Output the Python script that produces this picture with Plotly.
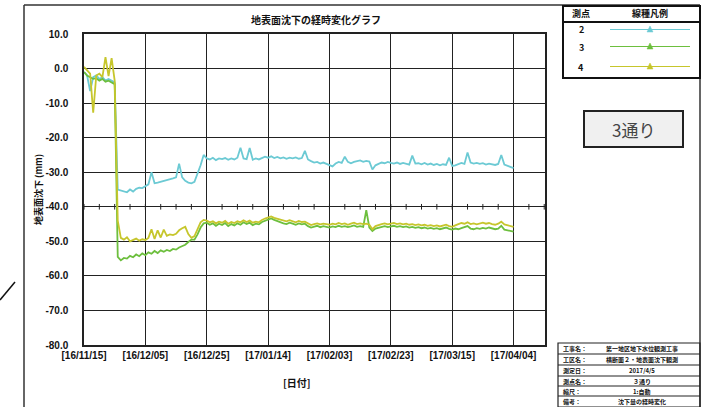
import pandas as pd
import plotly.graph_objects as go

# ---------------- data ----------------
start_date = "2016-11-15"
n_days = 141
dates = pd.date_range(start_date, periods=n_days, freq="D")

s2_values = [
    -1.0, -2.0, -6.5, -2.5, -2.0, -3.0, -2.5, -3.5, -3.0, -3.5,
    -4.0, -35.0, -35.2, -35.5, -35.8, -35.0, -35.6, -34.8, -34.5, -34.6,
    -34.0, -33.5, -30.0, -33.2, -33.0, -32.8, -32.5, -32.3, -32.0, -31.8,
    -31.5, -27.5, -31.5, -32.5, -33.0, -33.2, -32.8, -30.5, -28.0, -25.0,
    -26.0, -26.3, -25.8, -26.5, -26.0, -26.2, -25.9, -26.4, -26.0, -26.3,
    -25.8, -22.9, -26.0, -26.2, -23.0, -26.4, -26.0, -26.3, -25.8, -25.5,
    -25.8, -25.4, -25.9, -25.6, -26.0, -25.7, -26.1, -25.8, -26.0, -25.7,
    -26.1, -25.9, -23.8, -26.3, -26.8, -27.2, -27.0, -27.5, -27.2, -27.6,
    -27.8, -28.3, -27.5, -27.0, -27.3, -25.5, -27.0, -27.4, -27.0, -26.8,
    -26.6, -27.0, -26.7, -26.9, -29.2, -28.0, -27.5, -27.2, -27.4, -27.0,
    -27.3, -27.5, -27.2, -27.6, -27.3, -27.5, -27.8, -25.2, -27.5, -27.4,
    -27.7, -27.3, -27.8, -27.5, -27.9, -27.6, -28.0, -27.7, -27.9, -25.8,
    -28.2, -28.0, -27.6, -27.3, -27.6, -24.3, -27.2, -27.5, -27.3, -27.6,
    -27.4, -27.8, -27.5, -27.7, -27.9, -27.6, -25.0, -27.8, -28.2, -28.5,
    -28.8,
]

s3_values = [
    -1.0, -2.0, -2.5, -3.0, -2.8, -3.5, -3.0, -3.8, -3.5, -4.0,
    -4.5, -54.5, -55.5, -54.8, -55.0, -54.2, -54.6, -53.8, -54.3, -53.5,
    -54.0, -53.2, -53.6, -52.8, -53.4, -52.6, -53.0, -52.5, -52.8, -52.2,
    -52.4, -51.8, -51.5, -51.0, -50.2, -49.5, -49.5, -48.0, -46.0, -44.8,
    -44.6, -45.2, -44.8, -45.5, -44.9, -45.3, -44.7, -45.6, -45.0, -45.4,
    -44.8, -45.2, -44.5, -45.0, -44.6, -45.3, -44.9, -45.1, -44.4, -44.0,
    -43.6, -43.4, -43.8, -44.2, -44.5, -44.8, -45.0, -44.6, -44.9, -45.2,
    -44.8, -45.1, -44.9, -45.6, -46.0, -45.8, -45.5, -45.9, -45.6, -45.8,
    -46.0, -45.7, -45.9, -45.5, -45.8, -45.6, -45.9, -45.7, -45.4, -45.8,
    -45.6, -45.8, -41.0, -46.0, -47.0, -46.3, -46.0, -45.8, -45.6, -45.9,
    -45.7, -45.5, -45.8, -45.6, -45.9, -45.7, -46.0, -45.8, -46.1, -45.9,
    -46.2, -46.0, -46.3, -46.1, -46.4, -46.2, -46.5, -46.3, -46.0, -46.4,
    -46.6, -46.3, -46.5, -46.2, -46.0, -45.6, -46.3, -46.5, -46.2, -46.4,
    -46.1, -46.3, -46.0, -46.2, -46.5, -46.3, -45.5, -46.6, -46.8, -47.0,
    -47.2,
]

s4_values = [
    0.5, -0.5, -1.5, -12.8, -2.0, -1.5, -2.5, 3.3, -2.2, 3.0,
    -3.5, -44.0, -49.0, -49.5, -48.8, -50.0, -49.6, -49.2, -49.8, -49.4,
    -49.6, -49.0, -46.5, -49.3, -46.8, -48.9, -46.6, -48.4, -48.0, -48.2,
    -47.8, -46.8, -46.2, -45.8, -47.9, -49.0, -48.5, -46.5, -44.5, -43.8,
    -44.0, -44.5, -44.2, -44.8, -44.3, -44.6, -44.1, -44.9, -44.4, -44.7,
    -44.2, -44.5, -43.9, -44.4, -44.0, -44.6, -44.3, -44.5, -43.8, -43.4,
    -43.0, -42.8, -43.2, -43.5, -43.8, -44.0, -44.2, -43.9, -44.3, -44.5,
    -44.1, -44.4, -44.3, -44.9, -45.3, -45.0, -44.8, -45.1, -44.9, -45.0,
    -45.2, -44.9, -45.1, -44.7, -45.0, -44.8, -45.2, -44.9, -44.6, -45.0,
    -44.8, -45.0, -44.9, -45.2, -46.5, -45.6, -45.2, -45.0, -44.8, -45.1,
    -44.9, -44.7, -45.0, -44.8, -45.1, -44.9, -45.2, -45.0, -45.3, -45.1,
    -45.4, -45.2, -45.5, -45.3, -45.6, -45.4, -45.7, -45.5, -45.2, -45.6,
    -45.8, -45.4, -45.0, -44.7, -44.9, -44.5, -45.0, -44.8, -45.1, -44.9,
    -44.6, -44.9, -44.7, -45.0, -45.2, -44.9, -44.3, -45.1, -45.4, -45.6,
    -45.8,
]

series_names = ["2", "3", "4"]
series_colors = ["#6CCAD4", "#6DBF3E", "#C6C62C"]

tick_dates = ["2016-11-15", "2016-12-05", "2016-12-25", "2017-01-14",
              "2017-02-03", "2017-02-23", "2017-03-15", "2017-04-04"]
tick_labels = ["[16/11/15]", "[16/12/05]", "[16/12/25]", "[17/01/14]",
               "[17/02/03]", "[17/02/23]", "[17/03/15]", "[17/04/04]"]
minor_tick_dates = pd.date_range("2016-11-15", "2017-04-14", freq="5D")

y_ticks = [10, 0, -10, -20, -30, -40, -50, -60, -70, -80]
y_labels = ["10.0", "0.0", "-10.0", "-20.0", "-30.0", "-40.0", "-50.0", "-60.0", "-70.0", "-80.0"]

title_text = "地表面沈下の経時変化グラフ"
y_title = "地表面沈下 (mm)"
x_title = "[日付]"
legend_header = ["測点", "線種凡例"]
badge_text = "3通り"
info_labels = ["工事名：", "工区名：", "測定日：", "測点名：", "縮尺：", "備考："]
info_values = ["第一地区地下水位観測工事", "横断面２・地表面沈下観測", "2017/4/5", "３通り", "1:自動", "沈下量の経時変化"]

# ---------------- layout geometry (pixels) ----------------
W, H = 706, 407
L, R, T, B = 84, 545, 34, 345
PW, PH = R - L, B - T


def px(x):
    return (x - L) / PW


def py(y):
    return (B - y) / PH


JP = "Noto Sans CJK JP"
NUM = "Liberation Sans"

fig = go.Figure()
for name, vals, col in zip(series_names, [s2_values, s3_values, s4_values], series_colors):
    fig.add_trace(go.Scatter(x=dates, y=vals, mode="lines", name=name,
                             line=dict(color=col, width=1.8), showlegend=False))

# minor ticks on -40 line
fig.add_trace(go.Scatter(x=minor_tick_dates, y=[-40] * len(minor_tick_dates), mode="markers",
                         marker=dict(symbol="line-ns", size=4, line=dict(color="#222", width=1)),
                         showlegend=False, hoverinfo="skip"))

shapes = []
ann = []

# outer frame
shapes.append(dict(type="line", xref="paper", yref="paper", x0=px(24), x1=px(24), y0=py(5), y1=py(407),
                   line=dict(color="#333", width=1.5)))
shapes.append(dict(type="line", xref="paper", yref="paper", x0=px(24), x1=px(700), y0=py(5), y1=py(5),
                   line=dict(color="#333", width=1.5)))
shapes.append(dict(type="line", xref="paper", yref="paper", x0=px(700), x1=px(700), y0=py(5), y1=py(407),
                   line=dict(color="#333", width=1.5)))
# stray diagonal
shapes.append(dict(type="line", xref="paper", yref="paper", x0=px(0), x1=px(15), y0=py(300), y1=py(282),
                   line=dict(color="#111", width=1.5)))

# legend box
shapes.append(dict(type="rect", xref="paper", yref="paper", x0=px(563), x1=px(700), y0=py(6), y1=py(78),
                   line=dict(color="#111", width=2)))
shapes.append(dict(type="line", xref="paper", yref="paper", x0=px(563), x1=px(700), y0=py(22), y1=py(22),
                   line=dict(color="#111", width=2)))
ann.append(dict(x=px(581), y=py(14), text="<b>" + legend_header[0] + "</b>"))
ann.append(dict(x=px(650), y=py(14), text="<b>" + legend_header[1] + "</b>"))
row_y = [30, 47, 67]
for name, col, yy in zip(series_names, series_colors, row_y):
    ann.append(dict(x=px(581), y=py(yy), text="<b>" + name + "</b>"))
    shapes.append(dict(type="line", xref="paper", yref="paper", x0=px(610), x1=px(690), y0=py(yy - 0.5),
                       y1=py(yy - 0.5), line=dict(color=col, width=1.2)))
    path = "M {:.5f},{:.5f} L {:.5f},{:.5f} L {:.5f},{:.5f} Z".format(
        px(647), py(yy + 2), px(653), py(yy + 2), px(650), py(yy - 4))
    shapes.append(dict(type="path", xref="paper", yref="paper", path=path,
                       fillcolor=col, line=dict(color=col, width=0.5)))

# badge
shapes.append(dict(type="rect", xref="paper", yref="paper", x0=px(584), x1=px(683), y0=py(111), y1=py(147),
                   fillcolor="#F0F0F0", line=dict(color="#222", width=2), layer="below"))
ann.append(dict(x=px(633), y=py(129), text=badge_text, font=dict(family=JP, size=17, color="#444")))

# info table
tx0, tx1 = 558, 700
rows = [343, 354, 365, 376, 386, 396, 407]
shapes.append(dict(type="rect", xref="paper", yref="paper", x0=px(tx0), x1=px(tx1), y0=py(rows[0]), y1=py(rows[-1]),
                   line=dict(color="#222", width=1.2)))
for r in rows[1:-1]:
    shapes.append(dict(type="line", xref="paper", yref="paper", x0=px(tx0), x1=px(tx1), y0=py(r), y1=py(r),
                       line=dict(color="#222", width=1)))
for i, (lab, val) in enumerate(zip(info_labels, info_values)):
    yc = (rows[i] + rows[i + 1]) / 2
    ann.append(dict(x=px(562), y=py(yc), text="<b>" + lab + "</b>", xanchor="left",
                    font=dict(family=JP, size=6, color="#111")))
    ann.append(dict(x=px(642), y=py(yc), text="<b>" + val + "</b>",
                    font=dict(family=JP, size=6, color="#111")))

# titles
ann.append(dict(x=px(316), y=py(19), text="<b>" + title_text + "</b>", font=dict(family=JP, size=10, color="#111")))
ann.append(dict(x=px(297), y=py(382), text="<b>" + x_title + "</b>", font=dict(family=JP, size=10, color="#111")))
ann.append(dict(x=px(38), y=py(190), text="<b>" + y_title + "</b>", textangle=-90,
                font=dict(family=JP, size=9, color="#111")))

for a in ann:
    a.setdefault("xref", "paper")
    a.setdefault("yref", "paper")
    a.setdefault("showarrow", False)
    a.setdefault("xanchor", "center")
    a.setdefault("yanchor", "middle")
    a.setdefault("borderpad", 0)
    a.setdefault("font", dict(family=JP, size=9, color="#111"))

fig.update_layout(
    width=W, height=H,
    margin=dict(l=L, r=W - R, t=T, b=H - B, pad=0),
    paper_bgcolor="white", plot_bgcolor="white",
    shapes=shapes, annotations=ann,
    showlegend=False,
)
fig.update_xaxes(
    type="date", range=["2016-11-15", "2017-04-14 06:00"],
    tickvals=tick_dates, ticktext=tick_labels,
    tickfont=dict(family=NUM, size=10, color="#111", weight="bold"),
    showgrid=True, gridcolor="#222", gridwidth=1,
    showline=True, linecolor="#222", linewidth=1.5, mirror=True,
    ticks="", zeroline=False, ticklabelstandoff=0,
)
fig.update_yaxes(
    range=[-80, 10], tickvals=y_ticks, ticktext=y_labels,
    tickfont=dict(family=NUM, size=10, color="#111", weight="bold"),
    showgrid=True, gridcolor="#222", gridwidth=1,
    showline=True, linecolor="#222", linewidth=1.5, mirror=True,
    ticks="", zeroline=False, ticklabelstandoff=12,
)

fig.write_html("out.html", config={"displayModeBar": False},
               post_script="document.body.style.margin='0';document.body.style.overflow='hidden';")
